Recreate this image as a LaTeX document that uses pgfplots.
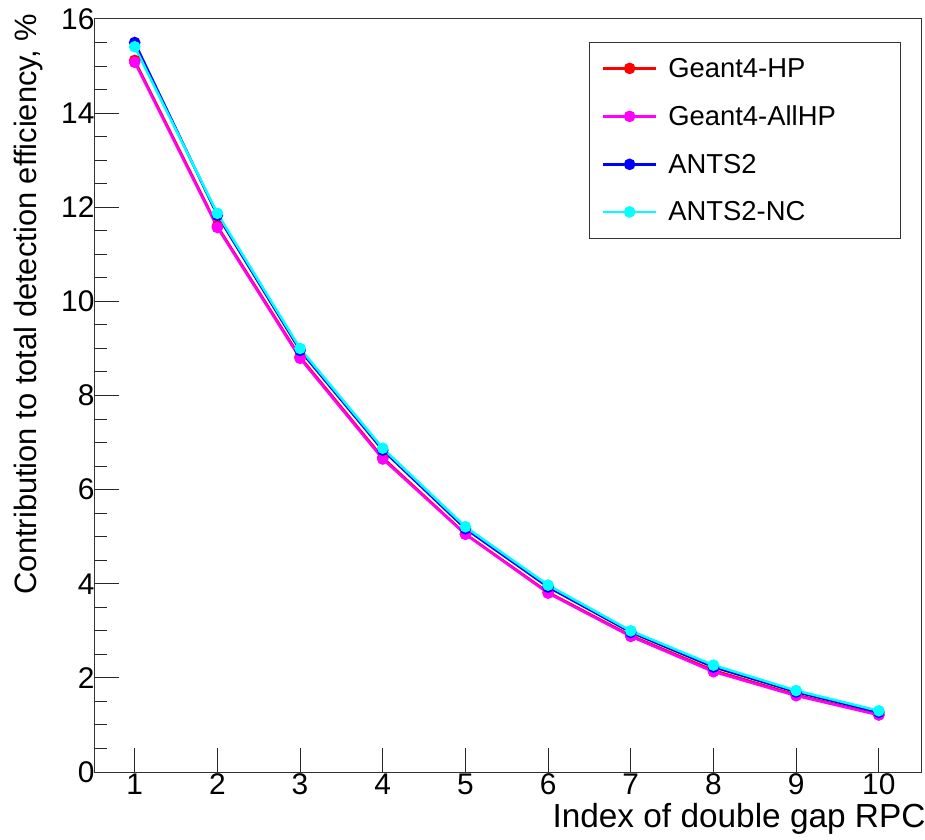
\documentclass[border=0pt]{standalone}
\usepackage{fontspec}
\setmainfont{Liberation Sans}
\usepackage{pgfplots}
\pgfplotsset{compat=1.18}
\definecolor{rRed}{RGB}{255,0,0}
\definecolor{rMag}{RGB}{255,0,255}
\definecolor{rBlue}{RGB}{0,0,255}
\definecolor{rCyan}{RGB}{0,255,255}
\begin{document}
\begin{tikzpicture}
\path[use as bounding box] (-95bp,-68bp) rectangle (830bp,772bp);
\begin{axis}[
  at={(0,0)}, anchor=south west,
  scale only axis, width=826bp, height=753bp,
  xmin=0.52, xmax=10.51, ymin=0, ymax=16,
  xtick={1,...,10}, ytick={0,2,...,16}, minor y tick num=3,
  tick align=inside, tick pos=left,
  major tick length=24bp, minor tick length=12bp,
  axis line style={black!80, line width=1bp},
  every tick/.style={black!85, line width=1bp},
  /pgf/number format/assume math mode=true,
  ticklabel style={font=\fontsize{30}{35}\selectfont},
  yticklabel style={xshift=3bp},
  xticklabel style={yshift=2bp},
  xlabel={Index of double gap RPC},
  ylabel={Contribution to total detection efficiency, \%},
  xlabel style={font=\fontsize{33.5}{38}\selectfont, at={(axis description cs:1,0)}, anchor=north east, yshift=-28bp, xshift=8bp},
  ylabel style={font=\fontsize{31}{36}\selectfont, at={(axis description cs:-0.0805,1.012)}, anchor=east},
  legend cell align=left,
  legend image code/.code={\draw[mark repeat=2,mark phase=2,#1] plot coordinates {(0bp,0bp) (26.5bp,0bp) (53bp,0bp)};},
  legend style={at={(axis description cs:0.5985,0.970)}, anchor=north west,
    draw=black!80, line width=1bp, font=\fontsize{27.5}{32}\selectfont,
    inner xsep=12bp, inner ysep=14bp, row sep=23bp, column sep=9bp},
  every axis plot/.append style={line width=2.5bp, mark=*, mark size=4.5bp},
]
\addplot[rRed] coordinates {(1,15.12) (2,11.60) (3,8.82) (4,6.68) (5,5.06) (6,3.82) (7,2.90) (8,2.16) (9,1.64) (10,1.22)};
\addlegendentry{\makebox[218bp][l]{Geant4-HP}}
\addplot[rMag] coordinates {(1,15.08) (2,11.57) (3,8.79) (4,6.65) (5,5.05) (6,3.80) (7,2.88) (8,2.13) (9,1.62) (10,1.21)};
\addlegendentry{Geant4-AllHP}
\addplot[rBlue] coordinates {(1,15.50) (2,11.83) (3,8.96) (4,6.84) (5,5.17) (6,3.93) (7,2.97) (8,2.23) (9,1.70) (10,1.27)};
\addlegendentry{ANTS2}
\addplot[rCyan] coordinates {(1,15.41) (2,11.87) (3,9.00) (4,6.88) (5,5.21) (6,3.97) (7,3.00) (8,2.27) (9,1.73) (10,1.30)};
\addlegendentry{ANTS2-NC}
\end{axis}
\end{tikzpicture}
\end{document}
